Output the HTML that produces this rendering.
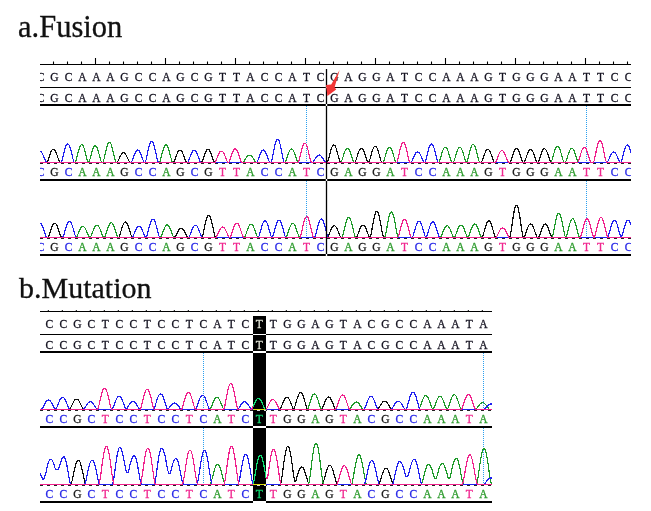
<!DOCTYPE html>
<html><head><meta charset="utf-8"><style>
html,body{margin:0;padding:0;background:#fff;}
body{width:651px;height:511px;overflow:hidden;position:relative;}
svg{position:absolute;left:0;top:0;}
.t{font-family:"Liberation Serif",serif;font-size:30.5px;fill:#111;stroke:#111;stroke-width:0.3;}
.s{font-family:"Liberation Serif",serif;font-size:11.5px;text-anchor:middle;stroke-width:0.3;}
.tr path{fill:none;stroke-width:1.2;stroke-linejoin:round;shape-rendering:crispEdges;}
</style></head><body>
<svg width="651" height="511" viewBox="0 0 651 511">
<defs>
<clipPath id="cf"><rect x="40" y="0" width="591" height="511"/></clipPath>
<clipPath id="cm"><rect x="40" y="0" width="452" height="511"/></clipPath>
</defs>
<rect x="0" y="0" width="651" height="511" fill="#fff"/>
<text class="t" x="18" y="36.9">a.Fusion</text>
<text class="t" x="19" y="297.5" style="font-size:30px">b.Mutation</text>

<g clip-path="url(#cf)">
<g stroke="#000" fill="none">
<line x1="40" y1="64.5" x2="631" y2="64.5" stroke-width="1.1"/>
<line x1="53.5" y1="61.5" x2="53.5" y2="64.5" stroke-width="1.1"/>
<line x1="67.5" y1="61.5" x2="67.5" y2="64.5" stroke-width="1.1"/>
<line x1="81.5" y1="61.5" x2="81.5" y2="64.5" stroke-width="1.1"/>
<line x1="95.5" y1="58.0" x2="95.5" y2="64.5" stroke-width="1.1"/>
<line x1="109.5" y1="61.5" x2="109.5" y2="64.5" stroke-width="1.1"/>
<line x1="123.5" y1="61.5" x2="123.5" y2="64.5" stroke-width="1.1"/>
<line x1="137.5" y1="61.5" x2="137.5" y2="64.5" stroke-width="1.1"/>
<line x1="151.5" y1="61.5" x2="151.5" y2="64.5" stroke-width="1.1"/>
<line x1="165.5" y1="58.0" x2="165.5" y2="64.5" stroke-width="1.1"/>
<line x1="179.5" y1="61.5" x2="179.5" y2="64.5" stroke-width="1.1"/>
<line x1="193.5" y1="61.5" x2="193.5" y2="64.5" stroke-width="1.1"/>
<line x1="207.5" y1="61.5" x2="207.5" y2="64.5" stroke-width="1.1"/>
<line x1="221.5" y1="61.5" x2="221.5" y2="64.5" stroke-width="1.1"/>
<line x1="235.5" y1="58.0" x2="235.5" y2="64.5" stroke-width="1.1"/>
<line x1="249.5" y1="61.5" x2="249.5" y2="64.5" stroke-width="1.1"/>
<line x1="263.5" y1="61.5" x2="263.5" y2="64.5" stroke-width="1.1"/>
<line x1="277.5" y1="61.5" x2="277.5" y2="64.5" stroke-width="1.1"/>
<line x1="291.5" y1="61.5" x2="291.5" y2="64.5" stroke-width="1.1"/>
<line x1="305.5" y1="58.0" x2="305.5" y2="64.5" stroke-width="1.1"/>
<line x1="319.5" y1="61.5" x2="319.5" y2="64.5" stroke-width="1.1"/>
<line x1="333.5" y1="61.5" x2="333.5" y2="64.5" stroke-width="1.1"/>
<line x1="347.5" y1="61.5" x2="347.5" y2="64.5" stroke-width="1.1"/>
<line x1="361.5" y1="61.5" x2="361.5" y2="64.5" stroke-width="1.1"/>
<line x1="375.5" y1="58.0" x2="375.5" y2="64.5" stroke-width="1.1"/>
<line x1="389.5" y1="61.5" x2="389.5" y2="64.5" stroke-width="1.1"/>
<line x1="403.5" y1="61.5" x2="403.5" y2="64.5" stroke-width="1.1"/>
<line x1="417.5" y1="61.5" x2="417.5" y2="64.5" stroke-width="1.1"/>
<line x1="431.5" y1="61.5" x2="431.5" y2="64.5" stroke-width="1.1"/>
<line x1="445.5" y1="58.0" x2="445.5" y2="64.5" stroke-width="1.1"/>
<line x1="459.5" y1="61.5" x2="459.5" y2="64.5" stroke-width="1.1"/>
<line x1="473.5" y1="61.5" x2="473.5" y2="64.5" stroke-width="1.1"/>
<line x1="487.5" y1="61.5" x2="487.5" y2="64.5" stroke-width="1.1"/>
<line x1="501.5" y1="61.5" x2="501.5" y2="64.5" stroke-width="1.1"/>
<line x1="515.5" y1="58.0" x2="515.5" y2="64.5" stroke-width="1.1"/>
<line x1="529.5" y1="61.5" x2="529.5" y2="64.5" stroke-width="1.1"/>
<line x1="543.5" y1="61.5" x2="543.5" y2="64.5" stroke-width="1.1"/>
<line x1="557.5" y1="61.5" x2="557.5" y2="64.5" stroke-width="1.1"/>
<line x1="571.5" y1="61.5" x2="571.5" y2="64.5" stroke-width="1.1"/>
<line x1="585.5" y1="58.0" x2="585.5" y2="64.5" stroke-width="1.1"/>
<line x1="599.5" y1="61.5" x2="599.5" y2="64.5" stroke-width="1.1"/>
<line x1="613.5" y1="61.5" x2="613.5" y2="64.5" stroke-width="1.1"/>
<line x1="627.5" y1="61.5" x2="627.5" y2="64.5" stroke-width="1.1"/>
<line x1="40" y1="87.5" x2="631" y2="87.5" stroke-width="1.2"/>
<line x1="40" y1="105" x2="631" y2="105" stroke-width="2"/>
<line x1="40" y1="180" x2="631" y2="180" stroke-width="2"/>
<line x1="40" y1="255" x2="631" y2="255" stroke-width="2"/>
</g>
<g class="s">
<text x="40.5" y="81.2" fill="#141220" stroke="#141220">C</text>
<text x="54.5" y="81.2" fill="#141220" stroke="#141220">G</text>
<text x="68.5" y="81.2" fill="#141220" stroke="#141220">C</text>
<text x="82.5" y="81.2" fill="#141220" stroke="#141220">A</text>
<text x="96.5" y="81.2" fill="#141220" stroke="#141220">A</text>
<text x="110.5" y="81.2" fill="#141220" stroke="#141220">A</text>
<text x="124.5" y="81.2" fill="#141220" stroke="#141220">G</text>
<text x="138.5" y="81.2" fill="#141220" stroke="#141220">C</text>
<text x="152.5" y="81.2" fill="#141220" stroke="#141220">C</text>
<text x="166.5" y="81.2" fill="#141220" stroke="#141220">A</text>
<text x="180.5" y="81.2" fill="#141220" stroke="#141220">G</text>
<text x="194.5" y="81.2" fill="#141220" stroke="#141220">C</text>
<text x="208.5" y="81.2" fill="#141220" stroke="#141220">G</text>
<text x="222.5" y="81.2" fill="#141220" stroke="#141220">T</text>
<text x="236.5" y="81.2" fill="#141220" stroke="#141220">T</text>
<text x="250.5" y="81.2" fill="#141220" stroke="#141220">A</text>
<text x="264.5" y="81.2" fill="#141220" stroke="#141220">C</text>
<text x="278.5" y="81.2" fill="#141220" stroke="#141220">C</text>
<text x="292.5" y="81.2" fill="#141220" stroke="#141220">A</text>
<text x="306.5" y="81.2" fill="#141220" stroke="#141220">T</text>
<text x="320.5" y="81.2" fill="#141220" stroke="#141220">C</text>
<text x="334.5" y="81.2" fill="#141220" stroke="#141220">G</text>
<text x="348.5" y="81.2" fill="#141220" stroke="#141220">A</text>
<text x="362.5" y="81.2" fill="#141220" stroke="#141220">G</text>
<text x="376.5" y="81.2" fill="#141220" stroke="#141220">G</text>
<text x="390.5" y="81.2" fill="#141220" stroke="#141220">A</text>
<text x="404.5" y="81.2" fill="#141220" stroke="#141220">T</text>
<text x="418.5" y="81.2" fill="#141220" stroke="#141220">C</text>
<text x="432.5" y="81.2" fill="#141220" stroke="#141220">C</text>
<text x="446.5" y="81.2" fill="#141220" stroke="#141220">A</text>
<text x="460.5" y="81.2" fill="#141220" stroke="#141220">A</text>
<text x="474.5" y="81.2" fill="#141220" stroke="#141220">A</text>
<text x="488.5" y="81.2" fill="#141220" stroke="#141220">G</text>
<text x="502.5" y="81.2" fill="#141220" stroke="#141220">T</text>
<text x="516.5" y="81.2" fill="#141220" stroke="#141220">G</text>
<text x="530.5" y="81.2" fill="#141220" stroke="#141220">G</text>
<text x="544.5" y="81.2" fill="#141220" stroke="#141220">G</text>
<text x="558.5" y="81.2" fill="#141220" stroke="#141220">A</text>
<text x="572.5" y="81.2" fill="#141220" stroke="#141220">A</text>
<text x="586.5" y="81.2" fill="#141220" stroke="#141220">T</text>
<text x="600.5" y="81.2" fill="#141220" stroke="#141220">T</text>
<text x="614.5" y="81.2" fill="#141220" stroke="#141220">C</text>
<text x="628.5" y="81.2" fill="#141220" stroke="#141220">C</text>
<text x="40.5" y="101.8" fill="#141220" stroke="#141220">C</text>
<text x="54.5" y="101.8" fill="#141220" stroke="#141220">G</text>
<text x="68.5" y="101.8" fill="#141220" stroke="#141220">C</text>
<text x="82.5" y="101.8" fill="#141220" stroke="#141220">A</text>
<text x="96.5" y="101.8" fill="#141220" stroke="#141220">A</text>
<text x="110.5" y="101.8" fill="#141220" stroke="#141220">A</text>
<text x="124.5" y="101.8" fill="#141220" stroke="#141220">G</text>
<text x="138.5" y="101.8" fill="#141220" stroke="#141220">C</text>
<text x="152.5" y="101.8" fill="#141220" stroke="#141220">C</text>
<text x="166.5" y="101.8" fill="#141220" stroke="#141220">A</text>
<text x="180.5" y="101.8" fill="#141220" stroke="#141220">G</text>
<text x="194.5" y="101.8" fill="#141220" stroke="#141220">C</text>
<text x="208.5" y="101.8" fill="#141220" stroke="#141220">G</text>
<text x="222.5" y="101.8" fill="#141220" stroke="#141220">T</text>
<text x="236.5" y="101.8" fill="#141220" stroke="#141220">T</text>
<text x="250.5" y="101.8" fill="#141220" stroke="#141220">A</text>
<text x="264.5" y="101.8" fill="#141220" stroke="#141220">C</text>
<text x="278.5" y="101.8" fill="#141220" stroke="#141220">C</text>
<text x="292.5" y="101.8" fill="#141220" stroke="#141220">A</text>
<text x="306.5" y="101.8" fill="#141220" stroke="#141220">T</text>
<text x="320.5" y="101.8" fill="#141220" stroke="#141220">C</text>
<text x="334.5" y="101.8" fill="#141220" stroke="#141220">G</text>
<text x="348.5" y="101.8" fill="#141220" stroke="#141220">A</text>
<text x="362.5" y="101.8" fill="#141220" stroke="#141220">G</text>
<text x="376.5" y="101.8" fill="#141220" stroke="#141220">G</text>
<text x="390.5" y="101.8" fill="#141220" stroke="#141220">A</text>
<text x="404.5" y="101.8" fill="#141220" stroke="#141220">T</text>
<text x="418.5" y="101.8" fill="#141220" stroke="#141220">C</text>
<text x="432.5" y="101.8" fill="#141220" stroke="#141220">C</text>
<text x="446.5" y="101.8" fill="#141220" stroke="#141220">A</text>
<text x="460.5" y="101.8" fill="#141220" stroke="#141220">A</text>
<text x="474.5" y="101.8" fill="#141220" stroke="#141220">A</text>
<text x="488.5" y="101.8" fill="#141220" stroke="#141220">G</text>
<text x="502.5" y="101.8" fill="#141220" stroke="#141220">T</text>
<text x="516.5" y="101.8" fill="#141220" stroke="#141220">G</text>
<text x="530.5" y="101.8" fill="#141220" stroke="#141220">G</text>
<text x="544.5" y="101.8" fill="#141220" stroke="#141220">G</text>
<text x="558.5" y="101.8" fill="#141220" stroke="#141220">A</text>
<text x="572.5" y="101.8" fill="#141220" stroke="#141220">A</text>
<text x="586.5" y="101.8" fill="#141220" stroke="#141220">T</text>
<text x="600.5" y="101.8" fill="#141220" stroke="#141220">T</text>
<text x="614.5" y="101.8" fill="#141220" stroke="#141220">C</text>
<text x="628.5" y="101.8" fill="#141220" stroke="#141220">C</text>
<text x="40.5" y="175.8" fill="#2828e8" stroke="#2828e8">C</text>
<text x="54.5" y="175.8" fill="#1a1a1a" stroke="#1a1a1a">G</text>
<text x="68.5" y="175.8" fill="#2828e8" stroke="#2828e8">C</text>
<text x="82.5" y="175.8" fill="#2a9a2a" stroke="#2a9a2a">A</text>
<text x="96.5" y="175.8" fill="#2a9a2a" stroke="#2a9a2a">A</text>
<text x="110.5" y="175.8" fill="#2a9a2a" stroke="#2a9a2a">A</text>
<text x="124.5" y="175.8" fill="#1a1a1a" stroke="#1a1a1a">G</text>
<text x="138.5" y="175.8" fill="#2828e8" stroke="#2828e8">C</text>
<text x="152.5" y="175.8" fill="#2828e8" stroke="#2828e8">C</text>
<text x="166.5" y="175.8" fill="#2a9a2a" stroke="#2a9a2a">A</text>
<text x="180.5" y="175.8" fill="#1a1a1a" stroke="#1a1a1a">G</text>
<text x="194.5" y="175.8" fill="#2828e8" stroke="#2828e8">C</text>
<text x="208.5" y="175.8" fill="#1a1a1a" stroke="#1a1a1a">G</text>
<text x="222.5" y="175.8" fill="#f02890" stroke="#f02890">T</text>
<text x="236.5" y="175.8" fill="#f02890" stroke="#f02890">T</text>
<text x="250.5" y="175.8" fill="#2a9a2a" stroke="#2a9a2a">A</text>
<text x="264.5" y="175.8" fill="#2828e8" stroke="#2828e8">C</text>
<text x="278.5" y="175.8" fill="#2828e8" stroke="#2828e8">C</text>
<text x="292.5" y="175.8" fill="#2a9a2a" stroke="#2a9a2a">A</text>
<text x="306.5" y="175.8" fill="#f02890" stroke="#f02890">T</text>
<text x="320.5" y="175.8" fill="#2828e8" stroke="#2828e8">C</text>
<text x="334.5" y="175.8" fill="#1a1a1a" stroke="#1a1a1a">G</text>
<text x="348.5" y="175.8" fill="#2a9a2a" stroke="#2a9a2a">A</text>
<text x="362.5" y="175.8" fill="#1a1a1a" stroke="#1a1a1a">G</text>
<text x="376.5" y="175.8" fill="#1a1a1a" stroke="#1a1a1a">G</text>
<text x="390.5" y="175.8" fill="#2a9a2a" stroke="#2a9a2a">A</text>
<text x="404.5" y="175.8" fill="#f02890" stroke="#f02890">T</text>
<text x="418.5" y="175.8" fill="#2828e8" stroke="#2828e8">C</text>
<text x="432.5" y="175.8" fill="#2828e8" stroke="#2828e8">C</text>
<text x="446.5" y="175.8" fill="#2a9a2a" stroke="#2a9a2a">A</text>
<text x="460.5" y="175.8" fill="#2a9a2a" stroke="#2a9a2a">A</text>
<text x="474.5" y="175.8" fill="#2a9a2a" stroke="#2a9a2a">A</text>
<text x="488.5" y="175.8" fill="#1a1a1a" stroke="#1a1a1a">G</text>
<text x="502.5" y="175.8" fill="#f02890" stroke="#f02890">T</text>
<text x="516.5" y="175.8" fill="#1a1a1a" stroke="#1a1a1a">G</text>
<text x="530.5" y="175.8" fill="#1a1a1a" stroke="#1a1a1a">G</text>
<text x="544.5" y="175.8" fill="#1a1a1a" stroke="#1a1a1a">G</text>
<text x="558.5" y="175.8" fill="#2a9a2a" stroke="#2a9a2a">A</text>
<text x="572.5" y="175.8" fill="#2a9a2a" stroke="#2a9a2a">A</text>
<text x="586.5" y="175.8" fill="#f02890" stroke="#f02890">T</text>
<text x="600.5" y="175.8" fill="#f02890" stroke="#f02890">T</text>
<text x="614.5" y="175.8" fill="#2828e8" stroke="#2828e8">C</text>
<text x="628.5" y="175.8" fill="#2828e8" stroke="#2828e8">C</text>
<text x="40.5" y="251.0" fill="#2828e8" stroke="#2828e8">C</text>
<text x="54.5" y="251.0" fill="#1a1a1a" stroke="#1a1a1a">G</text>
<text x="68.5" y="251.0" fill="#2828e8" stroke="#2828e8">C</text>
<text x="82.5" y="251.0" fill="#2a9a2a" stroke="#2a9a2a">A</text>
<text x="96.5" y="251.0" fill="#2a9a2a" stroke="#2a9a2a">A</text>
<text x="110.5" y="251.0" fill="#2a9a2a" stroke="#2a9a2a">A</text>
<text x="124.5" y="251.0" fill="#1a1a1a" stroke="#1a1a1a">G</text>
<text x="138.5" y="251.0" fill="#2828e8" stroke="#2828e8">C</text>
<text x="152.5" y="251.0" fill="#2828e8" stroke="#2828e8">C</text>
<text x="166.5" y="251.0" fill="#2a9a2a" stroke="#2a9a2a">A</text>
<text x="180.5" y="251.0" fill="#1a1a1a" stroke="#1a1a1a">G</text>
<text x="194.5" y="251.0" fill="#2828e8" stroke="#2828e8">C</text>
<text x="208.5" y="251.0" fill="#1a1a1a" stroke="#1a1a1a">G</text>
<text x="222.5" y="251.0" fill="#f02890" stroke="#f02890">T</text>
<text x="236.5" y="251.0" fill="#f02890" stroke="#f02890">T</text>
<text x="250.5" y="251.0" fill="#2a9a2a" stroke="#2a9a2a">A</text>
<text x="264.5" y="251.0" fill="#2828e8" stroke="#2828e8">C</text>
<text x="278.5" y="251.0" fill="#2828e8" stroke="#2828e8">C</text>
<text x="292.5" y="251.0" fill="#2a9a2a" stroke="#2a9a2a">A</text>
<text x="306.5" y="251.0" fill="#f02890" stroke="#f02890">T</text>
<text x="320.5" y="251.0" fill="#2828e8" stroke="#2828e8">C</text>
<text x="334.5" y="251.0" fill="#1a1a1a" stroke="#1a1a1a">G</text>
<text x="348.5" y="251.0" fill="#2a9a2a" stroke="#2a9a2a">A</text>
<text x="362.5" y="251.0" fill="#1a1a1a" stroke="#1a1a1a">G</text>
<text x="376.5" y="251.0" fill="#1a1a1a" stroke="#1a1a1a">G</text>
<text x="390.5" y="251.0" fill="#2a9a2a" stroke="#2a9a2a">A</text>
<text x="404.5" y="251.0" fill="#f02890" stroke="#f02890">T</text>
<text x="418.5" y="251.0" fill="#2828e8" stroke="#2828e8">C</text>
<text x="432.5" y="251.0" fill="#2828e8" stroke="#2828e8">C</text>
<text x="446.5" y="251.0" fill="#2a9a2a" stroke="#2a9a2a">A</text>
<text x="460.5" y="251.0" fill="#2a9a2a" stroke="#2a9a2a">A</text>
<text x="474.5" y="251.0" fill="#2a9a2a" stroke="#2a9a2a">A</text>
<text x="488.5" y="251.0" fill="#1a1a1a" stroke="#1a1a1a">G</text>
<text x="502.5" y="251.0" fill="#f02890" stroke="#f02890">T</text>
<text x="516.5" y="251.0" fill="#1a1a1a" stroke="#1a1a1a">G</text>
<text x="530.5" y="251.0" fill="#1a1a1a" stroke="#1a1a1a">G</text>
<text x="544.5" y="251.0" fill="#1a1a1a" stroke="#1a1a1a">G</text>
<text x="558.5" y="251.0" fill="#2a9a2a" stroke="#2a9a2a">A</text>
<text x="572.5" y="251.0" fill="#2a9a2a" stroke="#2a9a2a">A</text>
<text x="586.5" y="251.0" fill="#f02890" stroke="#f02890">T</text>
<text x="600.5" y="251.0" fill="#f02890" stroke="#f02890">T</text>
<text x="614.5" y="251.0" fill="#2828e8" stroke="#2828e8">C</text>
<text x="628.5" y="251.0" fill="#2828e8" stroke="#2828e8">C</text>
</g>
<g stroke="#2aa0f0" stroke-width="1" stroke-dasharray="1 1">
<line x1="306.5" y1="106" x2="306.5" y2="162"/>
<line x1="306.5" y1="181" x2="306.5" y2="237"/>
<line x1="586.5" y1="106" x2="586.5" y2="162"/>
<line x1="586.5" y1="181" x2="586.5" y2="237"/>
</g>
<g class="tr">
<line x1="40" y1="163.5" x2="631" y2="163.5" stroke="#202020" stroke-width="1" stroke-dasharray="3 4"/>
<path d="M40 162.5L46 162.5L47 162.3L48 160.2L49 157.3L50 154.4L51 151.8L52 150L53 149.1L54 149.2L55 150.3L56 152.3L57 154.9L58 157.9L59 160.7L60 162.5L116 162.5L117 162.4L118 161L119 159L120 156.8L121 154.9L122 153.5L123 152.8L124 152.8L125 153.5L126 154.9L127 156.8L128 159L129 161L130 162.4L131 162.5L173 162.5L174 161.7L175 159.4L176 156.6L177 154L178 151.8L179 150.5L180 150L181 150.5L182 151.8L183 154L184 156.6L185 159.4L186 161.7L187 162.5L201 162.5L202 161.7L203 159.2L204 156.3L205 153.5L206 151.2L207 149.8L208 149.3L209 149.8L210 151.2L211 153.5L212 156.3L213 159.2L214 161.7L215 162.5L327 162.5L328 160.8L329 157.3L330 153.4L331 149.8L332 147L333 145.3L334 144.9L335 145.8L336 148L337 151.2L338 155L339 158.8L340 161.8L341 162.5L354 162.5L355 162.3L356 160.1L357 157L358 153.8L359 151.1L360 149.2L361 148.2L362 148.3L363 149.5L364 151.6L365 154.4L366 157.6L367 160.6L368 162.5L369 161.9L370 159.1L371 155.4L372 151.9L373 148.9L374 146.9L375 146L376 146.4L377 148L378 150.6L379 154L380 157.6L381 160.9L382 162.5L481 162.5L482 161.2L483 158.6L484 155.6L485 152.9L486 150.8L487 149.5L488 149.2L489 149.9L490 151.5L491 153.9L492 156.8L493 159.7L494 162L495 162.5L509 162.5L510 162.4L511 160.4L512 157.3L513 154.2L514 151.4L515 149.4L516 148.3L517 148.3L518 149.4L519 151.4L520 154.2L521 157.3L522 160.4L523 162.4L524 162.5L525 160.8L526 158L527 155L528 152.4L529 150.5L530 149.4L531 149.3L532 150.2L533 152L534 154.5L535 157.4L536 160.3L537 162.3L538 162.3L539 160.2L540 157.2L541 154.2L542 151.6L543 149.7L544 148.8L545 148.9L546 150L547 152L548 154.8L549 157.8L550 160.7L551 162.5L631 162.5" stroke="#101010"/>
<path d="M40 162.5L75 162.5L76 160.5L77 156.8L78 152.9L79 149.3L80 146.5L81 144.9L82 144.7L83 145.7L84 148L85 151.3L86 155.2L87 159.1L88 162L89 161.9L90 159L91 155.4L92 151.7L93 148.7L94 146.7L95 145.8L96 146.2L97 147.8L98 150.4L99 153.9L100 157.6L101 160.9L102 162.5L103 162.2L104 159.1L105 154.7L106 150.2L107 146.3L108 143.6L109 142.2L110 142.4L111 144L112 147L113 151.1L114 155.6L115 159.8L116 162.4L117 162.5L159 162.5L160 161.4L161 158L162 154L163 150.3L164 147.2L165 145.3L166 144.6L167 145.3L168 147.2L169 150.3L170 154L171 158L172 161.4L173 162.5L242 162.5L243 162.4L244 161.4L245 159.8L246 158.1L247 156.7L248 155.6L249 155.1L250 155.1L251 155.6L252 156.7L253 158.1L254 159.8L255 161.4L256 162.4L257 162.5L284 162.5L285 162.4L286 160.5L287 157.6L288 154.5L289 151.9L290 149.9L291 148.9L292 148.9L293 149.9L294 151.9L295 154.5L296 157.6L297 160.5L298 162.4L299 162.5L340 162.5L341 162.3L342 160.1L343 157L344 153.8L345 151.1L346 149.2L347 148.2L348 148.3L349 149.5L350 151.6L351 154.4L352 157.6L353 160.6L354 162.5L382 162.5L383 162.4L384 160.2L385 157L386 153.6L387 150.6L388 148.5L389 147.3L390 147.3L391 148.5L392 150.6L393 153.6L394 157L395 160.2L396 162.4L397 162.5L438 162.5L439 162.1L440 159.6L441 156.2L442 152.8L443 150L444 148L445 147.1L446 147.3L447 148.7L448 151L449 154.1L450 157.6L451 160.8L452 162.5L453 162.5L454 161L455 158L456 154.6L457 151.5L458 149L459 147.6L460 147.2L461 148L462 149.9L463 152.6L464 156L465 159.3L466 161.9L467 161.6L468 158.3L469 154.3L470 150.4L471 147.2L472 145.1L473 144.3L474 144.9L475 146.7L476 149.7L477 153.5L478 157.5L479 161.1L480 162.5L550 162.5L551 162.4L552 160.1L553 156.6L554 153L555 149.8L556 147.5L557 146.3L558 146.3L559 147.5L560 149.8L561 153L562 156.6L563 160.1L564 162.4L565 162.5L566 161.1L567 158.3L568 155.1L569 152.2L570 149.9L571 148.5L572 148.2L573 149L574 150.7L575 153.3L576 156.4L577 159.5L578 162L579 162.5L631 162.5" stroke="#1e9a2a"/>
<path d="M40 151.4L41 151.8L42 153L43 154.9L44 157.3L45 159.7L46 161.8L47 162.5L61 162.5L62 160.4L63 156.6L64 152.4L65 148.7L66 145.8L67 144.1L68 143.9L69 145L70 147.4L71 150.8L72 154.9L73 159L74 162L75 162.5L131 162.5L132 161.1L133 158.5L134 155.8L135 153.3L136 151.3L137 150.2L138 150L139 150.8L140 152.4L141 154.7L142 157.4L143 160.1L144 162.2L145 162.5L146 160.1L147 155.7L148 150.9L149 146.5L150 143.2L151 141.3L152 141L153 142.3L154 145L155 149L156 153.7L157 158.4L158 161.9L159 162.5L187 162.5L188 162L189 159.9L190 157.1L191 154.5L192 152.2L193 150.7L194 150L195 150.3L196 151.5L197 153.5L198 156L199 158.8L200 161.3L201 162.5L256 162.5L257 162.2L258 160.1L259 157.4L260 154.7L261 152.4L262 150.8L263 150L264 150.2L265 151.3L266 153.3L267 155.8L268 158.5L269 161.1L270 162.5L271 162.4L272 159.4L273 154.5L274 149.3L275 144.7L276 141.2L277 139.3L278 139.1L279 140.7L280 143.9L281 148.3L282 153.5L283 158.5L284 162.1L285 162.5L312 162.5L313 162.1L314 160.8L315 159.1L316 157.5L317 156.2L318 155.3L319 155L320 155.2L321 156L322 157.2L323 158.8L324 160.5L325 161.9L326 162.5L411 162.5L412 161.1L413 158.9L414 156.5L415 154.4L416 152.8L417 151.9L418 151.9L419 152.6L420 154L421 156.1L422 158.4L423 160.7L424 162.3L425 162.3L426 159.7L427 155.7L428 151.6L429 147.9L430 145.3L431 143.9L432 143.9L433 145.3L434 147.9L435 151.6L436 155.7L437 159.7L438 162.3L439 162.5L607 162.5L608 161.1L609 158.9L610 156.6L611 154.5L612 152.9L613 152L614 152L615 152.7L616 154.1L617 156.1L618 158.4L619 160.7L620 162.3L621 162.2L622 159.5L623 155.7L624 151.8L625 148.5L626 146.1L627 144.9L628 145L629 146.5L630 149.1L631 152.6" stroke="#2020f0"/>
<path d="M40 162.5L214 162.5L215 162.3L216 160.6L217 158.1L218 155.6L219 153.4L220 151.8L221 151.1L222 151.2L223 152.1L224 153.8L225 156.1L226 158.6L227 161L228 162.5L229 162L230 159.6L231 156.6L232 153.7L233 151.2L234 149.5L235 148.8L236 149.1L237 150.4L238 152.6L239 155.4L240 158.5L241 161.2L242 162.5L298 162.5L299 160.6L300 156.8L301 152.4L302 148.4L303 145.3L304 143.5L305 143L306 144.1L307 146.4L308 149.9L309 154.2L310 158.4L311 161.8L312 162.5L396 162.5L397 162L398 158.7L399 154.3L400 150L401 146.3L402 143.7L403 142.5L404 142.8L405 144.5L406 147.6L407 151.7L408 156.1L409 160.2L410 162.5L495 162.5L496 161.6L497 159.2L498 156.6L499 154.1L500 152.1L501 150.9L502 150.5L503 151L504 152.4L505 154.5L506 157.1L507 159.7L508 161.9L509 162.5L577 162.5L578 162.1L579 159.6L580 156.3L581 153L582 150.1L583 148.2L584 147.3L585 147.5L586 148.8L587 151.2L588 154.3L589 157.7L590 160.8L591 162.5L593 162.5L594 161.1L595 157L596 152.1L597 147.4L598 143.6L599 141.2L600 140.4L601 141.2L602 143.6L603 147.4L604 152.1L605 157L606 161.1L607 162.5L631 162.5" stroke="#f0208c"/>
<line x1="40" y1="238.5" x2="631" y2="238.5" stroke="#202020" stroke-width="1" stroke-dasharray="3 4"/>
<path d="M40 237.5L47 237.5L48 237.4L49 235.5L50 232.5L51 229.5L52 226.7L53 224.6L54 223.4L55 223.2L56 224.1L57 225.8L58 228.3L59 231.3L60 234.4L61 236.8L62 237.5L118 237.5L119 237L120 234.4L121 231.1L122 227.8L123 225L124 223L125 222L126 222.1L127 223.3L128 225.5L129 228.4L130 231.8L131 235L132 237.3L133 237.5L174 237.5L175 236.9L176 235.2L177 233.2L178 231.3L179 229.7L180 228.6L181 228.1L182 228.3L183 229.2L184 230.6L185 232.4L186 234.4L187 236.3L188 237.5L201 237.5L202 237.3L203 234.3L204 229.8L205 225L206 220.8L207 217.5L208 215.7L209 215.4L210 216.6L211 219.3L212 223.2L213 227.9L214 232.6L215 236.4L216 237.5L327 237.5L328 236.8L329 234.7L330 232.1L331 229.7L332 227.7L333 226.3L334 225.7L335 226L336 227L337 228.8L338 231.1L339 233.7L340 236L341 237.5L356 237.5L357 236.4L358 234L359 231.3L360 228.7L361 226.7L362 225.4L363 225L364 225.4L365 226.7L366 228.7L367 231.3L368 234L369 236.4L370 237.4L371 234.2L372 229L373 223.3L374 218.1L375 214.2L376 211.8L377 211.2L378 212.5L379 215.6L380 220.1L381 225.5L382 231.2L383 235.9L384 237.5L482 237.5L483 235.4L484 232.1L485 228.5L486 225.2L487 222.7L488 221.2L489 220.8L490 221.6L491 223.6L492 226.4L493 229.9L494 233.5L495 236.5L496 237.5L509 237.5L510 236.7L511 231.7L512 224.9L513 218L514 212L515 207.7L516 205.4L517 205.4L518 207.7L519 212L520 218L521 224.9L522 231.7L523 236.7L524 237.3L525 235.3L526 232.5L527 229.6L528 227L529 225.1L530 224.1L531 224L532 224.8L533 226.6L534 229L535 231.9L536 234.8L537 237L538 237.5L539 236.7L540 234.2L541 231.3L542 228.5L543 226.2L544 224.6L545 223.9L546 224.2L547 225.4L548 227.5L549 230.1L550 233.1L551 235.8L552 237.5L631 237.5" stroke="#101010"/>
<path d="M40 237.5L76 237.5L77 236.3L78 234.1L79 231.7L80 229.5L81 227.8L82 226.7L83 226.4L84 226.9L85 228.1L86 229.9L87 232.2L88 234.6L89 236.7L90 237.5L91 236.2L92 233.7L93 231.1L94 228.6L95 226.7L96 225.5L97 225.1L98 225.6L99 227L100 229L101 231.6L102 234.3L103 236.6L104 237.5L105 236.6L106 233.9L107 230.8L108 227.7L109 225.2L110 223.5L111 222.7L112 223L113 224.4L114 226.6L115 229.5L116 232.7L117 235.7L118 237.5L160 237.5L161 236.7L162 234.5L163 231.8L164 229.2L165 227L166 225.5L167 224.9L168 225.2L169 226.3L170 228.2L171 230.7L172 233.4L173 235.9L174 237.5L244 237.5L245 236.5L246 234L247 231.1L248 228.4L249 226.1L250 224.7L251 224.1L252 224.5L253 225.8L254 227.9L255 230.5L256 233.4L257 236.1L258 237.5L286 237.5L287 235.7L288 232.9L289 229.9L290 227.1L291 225L292 223.7L293 223.4L294 224.1L295 225.7L296 228.2L297 231.1L298 234.1L299 236.6L300 237.5L341 237.5L342 237.3L343 234.6L344 230.5L345 226.1L346 222.2L347 219.3L348 217.6L349 217.3L350 218.4L351 220.9L352 224.4L353 228.7L354 233L355 236.5L356 237.5L384 237.5L385 236.6L386 232.4L387 227L388 221.5L389 216.9L390 213.7L391 212L392 212.2L393 214.2L394 217.8L395 222.6L396 228.1L397 233.4L398 237.1L399 237.5L440 237.5L441 236.6L442 234.4L443 231.9L444 229.5L445 227.5L446 226.2L447 225.7L448 226L449 227.2L450 229L451 231.4L452 233.9L453 236.2L454 237.5L455 236.4L456 234L457 231.3L458 228.7L459 226.7L460 225.4L461 225L462 225.4L463 226.7L464 228.7L465 231.3L466 234L467 236.4L468 237.4L469 235.6L470 232.8L471 229.9L472 227.2L473 225.3L474 224.1L475 223.9L476 224.7L477 226.4L478 228.8L479 231.6L480 234.5L481 236.9L482 237.5L551 237.5L552 237.4L553 234.5L554 229.5L555 224.2L556 219.5L557 215.8L558 213.6L559 213L560 214.2L561 217.1L562 221.3L563 226.3L564 231.6L565 236L566 237.2L567 234.5L568 230.6L569 226.5L570 223L571 220.4L572 218.9L573 218.8L574 220L575 222.4L576 225.8L577 229.8L578 233.7L579 236.8L580 237.5L631 237.5" stroke="#1e9a2a"/>
<path d="M40 223.2L41 223.7L42 225.2L43 227.5L44 230.4L45 233.5L46 236.2L47 237.5L62 237.5L63 236.9L64 234.2L65 230.8L66 227.3L67 224.4L68 222.3L69 221.3L70 221.4L71 222.7L72 224.9L73 228L74 231.5L75 234.9L76 237.3L77 237.5L132 237.5L133 236.3L134 234L135 231.6L136 229.3L137 227.5L138 226.4L139 226.1L140 226.6L141 227.8L142 229.7L143 232.1L144 234.5L145 236.6L146 237.5L147 235.5L148 231.9L149 227.9L150 224.2L151 221.3L152 219.5L153 219L154 219.8L155 221.8L156 224.9L157 228.7L158 232.7L159 236.1L160 237.5L188 237.5L189 237.1L190 235L191 232.4L192 229.7L193 227.5L194 225.9L195 225.1L196 225.2L197 226.1L198 227.9L199 230.2L200 232.9L201 235.5L202 237.3L203 237.5L258 237.5L259 236L260 232.7L261 229.1L262 225.7L263 222.9L264 221.2L265 220.6L266 221.2L267 222.9L268 225.7L269 229.1L270 232.7L271 236L272 237.5L273 235.9L274 232.6L275 228.8L276 225.2L277 222.4L278 220.6L279 220L280 220.6L281 222.4L282 225.2L283 228.8L284 232.6L285 235.9L286 237.5L314 237.5L315 236.8L316 233.8L317 229.8L318 225.8L319 222.5L320 220.1L321 218.9L322 219L323 220.5L324 223.1L325 226.6L326 230.6L327 234.5L328 237.2L329 237.5L412 237.5L413 236L414 232.9L415 229.3L416 226L417 223.4L418 221.7L419 221.1L420 221.7L421 223.4L422 226L423 229.3L424 232.9L425 236L426 237.5L427 235.5L428 232.4L429 229L430 225.9L431 223.6L432 222.2L433 221.8L434 222.6L435 224.4L436 227.1L437 230.4L438 233.7L439 236.5L440 237.5L607 237.5L608 236.9L609 234L610 230.3L611 226.6L612 223.4L613 221.2L614 220.1L615 220.2L616 221.6L617 224L618 227.3L619 231.1L620 234.7L621 237.2L622 235.9L623 232.6L624 228.8L625 225.2L626 222.4L627 220.6L628 220L629 220.6L630 222.4L631 225.2" stroke="#2020f0"/>
<path d="M40 237.5L215 237.5L216 237.3L217 235.8L218 233.6L219 231.3L220 229.3L221 227.9L222 227L223 227L224 227.6L225 229L226 230.9L227 233.1L228 235.4L229 237.1L230 237.5L231 235.7L232 232.8L233 229.7L234 226.8L235 224.6L236 223.3L237 223L238 223.7L239 225.4L240 227.9L241 230.9L242 234L243 236.6L244 237.5L299 237.5L300 237.3L301 234.5L302 230.2L303 225.7L304 221.7L305 218.6L306 216.9L307 216.6L308 217.8L309 220.3L310 224L311 228.4L312 232.9L313 236.5L314 237.5L397 237.5L398 237.1L399 234.2L400 230.4L401 226.5L402 223.2L403 220.7L404 219.5L405 219.5L406 220.7L407 223.2L408 226.5L409 230.4L410 234.2L411 237.1L412 237.5L495 237.5L496 237.4L497 236L498 234L499 231.9L500 230.1L501 228.8L502 228L503 228L504 228.6L505 229.8L506 231.5L507 233.5L508 235.6L509 237.2L510 237.5L580 237.5L581 235.8L582 232.2L583 228.1L584 224.3L585 221.3L586 219.4L587 218.7L588 219.4L589 221.3L590 224.3L591 228.1L592 232.2L593 235.8L594 237.5L595 235.7L596 231.8L597 227.5L598 223.4L599 220.2L600 218.1L601 217.4L602 218.1L603 220.2L604 223.4L605 227.5L606 231.8L607 235.7L608 237.5L631 237.5" stroke="#f0208c"/>
</g>
<line x1="326.5" y1="69" x2="326.5" y2="255.8" stroke="#000" stroke-width="1.3"/>
<g fill="#fff"><rect x="325.8" y="86.8" width="1.4" height="1.3"/><rect x="325.8" y="104" width="1.4" height="2"/><rect x="325.8" y="179" width="1.4" height="2"/><rect x="325.8" y="254" width="1.4" height="2"/></g>
<path d="M339.6 70 L334.6 87.2 L336.2 89.6 L327.4 96 L326 85 L331.2 84.6 Z" fill="#f23636"/>
</g>
<g clip-path="url(#cm)">
<g stroke="#000" fill="none">
<line x1="40" y1="311.5" x2="492" y2="311.5" stroke-width="1.1"/>
<line x1="48.3" y1="310" x2="48.3" y2="311.2" stroke-width="1"/>
<line x1="62.3" y1="310" x2="62.3" y2="311.2" stroke-width="1"/>
<line x1="76.3" y1="310" x2="76.3" y2="311.2" stroke-width="1"/>
<line x1="90.3" y1="310" x2="90.3" y2="311.2" stroke-width="1"/>
<line x1="104.3" y1="310" x2="104.3" y2="311.2" stroke-width="1"/>
<line x1="118.3" y1="310" x2="118.3" y2="311.2" stroke-width="1"/>
<line x1="132.3" y1="310" x2="132.3" y2="311.2" stroke-width="1"/>
<line x1="146.3" y1="310" x2="146.3" y2="311.2" stroke-width="1"/>
<line x1="160.3" y1="310" x2="160.3" y2="311.2" stroke-width="1"/>
<line x1="174.3" y1="310" x2="174.3" y2="311.2" stroke-width="1"/>
<line x1="188.3" y1="310" x2="188.3" y2="311.2" stroke-width="1"/>
<line x1="202.3" y1="310" x2="202.3" y2="311.2" stroke-width="1"/>
<line x1="216.3" y1="310" x2="216.3" y2="311.2" stroke-width="1"/>
<line x1="230.3" y1="310" x2="230.3" y2="311.2" stroke-width="1"/>
<line x1="244.3" y1="310" x2="244.3" y2="311.2" stroke-width="1"/>
<line x1="258.3" y1="310" x2="258.3" y2="311.2" stroke-width="1"/>
<line x1="272.3" y1="310" x2="272.3" y2="311.2" stroke-width="1"/>
<line x1="286.3" y1="310" x2="286.3" y2="311.2" stroke-width="1"/>
<line x1="300.3" y1="310" x2="300.3" y2="311.2" stroke-width="1"/>
<line x1="314.3" y1="310" x2="314.3" y2="311.2" stroke-width="1"/>
<line x1="328.3" y1="310" x2="328.3" y2="311.2" stroke-width="1"/>
<line x1="342.3" y1="310" x2="342.3" y2="311.2" stroke-width="1"/>
<line x1="356.3" y1="310" x2="356.3" y2="311.2" stroke-width="1"/>
<line x1="370.3" y1="310" x2="370.3" y2="311.2" stroke-width="1"/>
<line x1="384.3" y1="310" x2="384.3" y2="311.2" stroke-width="1"/>
<line x1="398.3" y1="310" x2="398.3" y2="311.2" stroke-width="1"/>
<line x1="412.3" y1="310" x2="412.3" y2="311.2" stroke-width="1"/>
<line x1="426.3" y1="310" x2="426.3" y2="311.2" stroke-width="1"/>
<line x1="440.3" y1="310" x2="440.3" y2="311.2" stroke-width="1"/>
<line x1="454.3" y1="310" x2="454.3" y2="311.2" stroke-width="1"/>
<line x1="468.3" y1="310" x2="468.3" y2="311.2" stroke-width="1"/>
<line x1="482.3" y1="310" x2="482.3" y2="311.2" stroke-width="1"/>
<line x1="40" y1="334.5" x2="492" y2="334.5" stroke-width="1.2"/>
<line x1="40" y1="352" x2="492" y2="352" stroke-width="2"/>
<line x1="40" y1="427" x2="492" y2="427" stroke-width="2"/>
<line x1="40" y1="502" x2="492" y2="502" stroke-width="2"/>
</g>
<g class="s">
<text x="49.3" y="327.9" fill="#141220" stroke="#141220">C</text>
<text x="63.3" y="327.9" fill="#141220" stroke="#141220">C</text>
<text x="77.3" y="327.9" fill="#141220" stroke="#141220">G</text>
<text x="91.3" y="327.9" fill="#141220" stroke="#141220">C</text>
<text x="105.3" y="327.9" fill="#141220" stroke="#141220">T</text>
<text x="119.3" y="327.9" fill="#141220" stroke="#141220">C</text>
<text x="133.3" y="327.9" fill="#141220" stroke="#141220">C</text>
<text x="147.3" y="327.9" fill="#141220" stroke="#141220">T</text>
<text x="161.3" y="327.9" fill="#141220" stroke="#141220">C</text>
<text x="175.3" y="327.9" fill="#141220" stroke="#141220">C</text>
<text x="189.3" y="327.9" fill="#141220" stroke="#141220">T</text>
<text x="203.3" y="327.9" fill="#141220" stroke="#141220">C</text>
<text x="217.3" y="327.9" fill="#141220" stroke="#141220">A</text>
<text x="231.3" y="327.9" fill="#141220" stroke="#141220">T</text>
<text x="245.3" y="327.9" fill="#141220" stroke="#141220">C</text>
<text x="259.3" y="327.9" fill="#141220" stroke="#141220">T</text>
<text x="273.3" y="327.9" fill="#141220" stroke="#141220">T</text>
<text x="287.3" y="327.9" fill="#141220" stroke="#141220">G</text>
<text x="301.3" y="327.9" fill="#141220" stroke="#141220">G</text>
<text x="315.3" y="327.9" fill="#141220" stroke="#141220">A</text>
<text x="329.3" y="327.9" fill="#141220" stroke="#141220">G</text>
<text x="343.3" y="327.9" fill="#141220" stroke="#141220">T</text>
<text x="357.3" y="327.9" fill="#141220" stroke="#141220">A</text>
<text x="371.3" y="327.9" fill="#141220" stroke="#141220">C</text>
<text x="385.3" y="327.9" fill="#141220" stroke="#141220">G</text>
<text x="399.3" y="327.9" fill="#141220" stroke="#141220">C</text>
<text x="413.3" y="327.9" fill="#141220" stroke="#141220">C</text>
<text x="427.3" y="327.9" fill="#141220" stroke="#141220">A</text>
<text x="441.3" y="327.9" fill="#141220" stroke="#141220">A</text>
<text x="455.3" y="327.9" fill="#141220" stroke="#141220">A</text>
<text x="469.3" y="327.9" fill="#141220" stroke="#141220">T</text>
<text x="483.3" y="327.9" fill="#141220" stroke="#141220">A</text>
<text x="49.3" y="348.5" fill="#141220" stroke="#141220">C</text>
<text x="63.3" y="348.5" fill="#141220" stroke="#141220">C</text>
<text x="77.3" y="348.5" fill="#141220" stroke="#141220">G</text>
<text x="91.3" y="348.5" fill="#141220" stroke="#141220">C</text>
<text x="105.3" y="348.5" fill="#141220" stroke="#141220">T</text>
<text x="119.3" y="348.5" fill="#141220" stroke="#141220">C</text>
<text x="133.3" y="348.5" fill="#141220" stroke="#141220">C</text>
<text x="147.3" y="348.5" fill="#141220" stroke="#141220">T</text>
<text x="161.3" y="348.5" fill="#141220" stroke="#141220">C</text>
<text x="175.3" y="348.5" fill="#141220" stroke="#141220">C</text>
<text x="189.3" y="348.5" fill="#141220" stroke="#141220">T</text>
<text x="203.3" y="348.5" fill="#141220" stroke="#141220">C</text>
<text x="217.3" y="348.5" fill="#141220" stroke="#141220">A</text>
<text x="231.3" y="348.5" fill="#141220" stroke="#141220">T</text>
<text x="245.3" y="348.5" fill="#141220" stroke="#141220">C</text>
<text x="259.3" y="348.5" fill="#141220" stroke="#141220">T</text>
<text x="273.3" y="348.5" fill="#141220" stroke="#141220">T</text>
<text x="287.3" y="348.5" fill="#141220" stroke="#141220">G</text>
<text x="301.3" y="348.5" fill="#141220" stroke="#141220">G</text>
<text x="315.3" y="348.5" fill="#141220" stroke="#141220">A</text>
<text x="329.3" y="348.5" fill="#141220" stroke="#141220">G</text>
<text x="343.3" y="348.5" fill="#141220" stroke="#141220">T</text>
<text x="357.3" y="348.5" fill="#141220" stroke="#141220">A</text>
<text x="371.3" y="348.5" fill="#141220" stroke="#141220">C</text>
<text x="385.3" y="348.5" fill="#141220" stroke="#141220">G</text>
<text x="399.3" y="348.5" fill="#141220" stroke="#141220">C</text>
<text x="413.3" y="348.5" fill="#141220" stroke="#141220">C</text>
<text x="427.3" y="348.5" fill="#141220" stroke="#141220">A</text>
<text x="441.3" y="348.5" fill="#141220" stroke="#141220">A</text>
<text x="455.3" y="348.5" fill="#141220" stroke="#141220">A</text>
<text x="469.3" y="348.5" fill="#141220" stroke="#141220">T</text>
<text x="483.3" y="348.5" fill="#141220" stroke="#141220">A</text>
<text x="49.3" y="422.8" fill="#2828e8" stroke="#2828e8">C</text>
<text x="63.3" y="422.8" fill="#2828e8" stroke="#2828e8">C</text>
<text x="77.3" y="422.8" fill="#1a1a1a" stroke="#1a1a1a">G</text>
<text x="91.3" y="422.8" fill="#2828e8" stroke="#2828e8">C</text>
<text x="105.3" y="422.8" fill="#f02890" stroke="#f02890">T</text>
<text x="119.3" y="422.8" fill="#2828e8" stroke="#2828e8">C</text>
<text x="133.3" y="422.8" fill="#2828e8" stroke="#2828e8">C</text>
<text x="147.3" y="422.8" fill="#f02890" stroke="#f02890">T</text>
<text x="161.3" y="422.8" fill="#2828e8" stroke="#2828e8">C</text>
<text x="175.3" y="422.8" fill="#2828e8" stroke="#2828e8">C</text>
<text x="189.3" y="422.8" fill="#f02890" stroke="#f02890">T</text>
<text x="203.3" y="422.8" fill="#2828e8" stroke="#2828e8">C</text>
<text x="217.3" y="422.8" fill="#2a9a2a" stroke="#2a9a2a">A</text>
<text x="231.3" y="422.8" fill="#f02890" stroke="#f02890">T</text>
<text x="245.3" y="422.8" fill="#2828e8" stroke="#2828e8">C</text>
<text x="259.3" y="422.8" fill="#f02890" stroke="#f02890">T</text>
<text x="273.3" y="422.8" fill="#f02890" stroke="#f02890">T</text>
<text x="287.3" y="422.8" fill="#1a1a1a" stroke="#1a1a1a">G</text>
<text x="301.3" y="422.8" fill="#1a1a1a" stroke="#1a1a1a">G</text>
<text x="315.3" y="422.8" fill="#2a9a2a" stroke="#2a9a2a">A</text>
<text x="329.3" y="422.8" fill="#1a1a1a" stroke="#1a1a1a">G</text>
<text x="343.3" y="422.8" fill="#f02890" stroke="#f02890">T</text>
<text x="357.3" y="422.8" fill="#2a9a2a" stroke="#2a9a2a">A</text>
<text x="371.3" y="422.8" fill="#2828e8" stroke="#2828e8">C</text>
<text x="385.3" y="422.8" fill="#1a1a1a" stroke="#1a1a1a">G</text>
<text x="399.3" y="422.8" fill="#2828e8" stroke="#2828e8">C</text>
<text x="413.3" y="422.8" fill="#2828e8" stroke="#2828e8">C</text>
<text x="427.3" y="422.8" fill="#2a9a2a" stroke="#2a9a2a">A</text>
<text x="441.3" y="422.8" fill="#2a9a2a" stroke="#2a9a2a">A</text>
<text x="455.3" y="422.8" fill="#2a9a2a" stroke="#2a9a2a">A</text>
<text x="469.3" y="422.8" fill="#f02890" stroke="#f02890">T</text>
<text x="483.3" y="422.8" fill="#2a9a2a" stroke="#2a9a2a">A</text>
<text x="49.3" y="497.8" fill="#2828e8" stroke="#2828e8">C</text>
<text x="63.3" y="497.8" fill="#2828e8" stroke="#2828e8">C</text>
<text x="77.3" y="497.8" fill="#1a1a1a" stroke="#1a1a1a">G</text>
<text x="91.3" y="497.8" fill="#2828e8" stroke="#2828e8">C</text>
<text x="105.3" y="497.8" fill="#f02890" stroke="#f02890">T</text>
<text x="119.3" y="497.8" fill="#2828e8" stroke="#2828e8">C</text>
<text x="133.3" y="497.8" fill="#2828e8" stroke="#2828e8">C</text>
<text x="147.3" y="497.8" fill="#f02890" stroke="#f02890">T</text>
<text x="161.3" y="497.8" fill="#2828e8" stroke="#2828e8">C</text>
<text x="175.3" y="497.8" fill="#2828e8" stroke="#2828e8">C</text>
<text x="189.3" y="497.8" fill="#f02890" stroke="#f02890">T</text>
<text x="203.3" y="497.8" fill="#2828e8" stroke="#2828e8">C</text>
<text x="217.3" y="497.8" fill="#2a9a2a" stroke="#2a9a2a">A</text>
<text x="231.3" y="497.8" fill="#f02890" stroke="#f02890">T</text>
<text x="245.3" y="497.8" fill="#2828e8" stroke="#2828e8">C</text>
<text x="259.3" y="497.8" fill="#f02890" stroke="#f02890">T</text>
<text x="273.3" y="497.8" fill="#f02890" stroke="#f02890">T</text>
<text x="287.3" y="497.8" fill="#1a1a1a" stroke="#1a1a1a">G</text>
<text x="301.3" y="497.8" fill="#1a1a1a" stroke="#1a1a1a">G</text>
<text x="315.3" y="497.8" fill="#2a9a2a" stroke="#2a9a2a">A</text>
<text x="329.3" y="497.8" fill="#1a1a1a" stroke="#1a1a1a">G</text>
<text x="343.3" y="497.8" fill="#f02890" stroke="#f02890">T</text>
<text x="357.3" y="497.8" fill="#2a9a2a" stroke="#2a9a2a">A</text>
<text x="371.3" y="497.8" fill="#2828e8" stroke="#2828e8">C</text>
<text x="385.3" y="497.8" fill="#1a1a1a" stroke="#1a1a1a">G</text>
<text x="399.3" y="497.8" fill="#2828e8" stroke="#2828e8">C</text>
<text x="413.3" y="497.8" fill="#2828e8" stroke="#2828e8">C</text>
<text x="427.3" y="497.8" fill="#2a9a2a" stroke="#2a9a2a">A</text>
<text x="441.3" y="497.8" fill="#2a9a2a" stroke="#2a9a2a">A</text>
<text x="455.3" y="497.8" fill="#2a9a2a" stroke="#2a9a2a">A</text>
<text x="469.3" y="497.8" fill="#f02890" stroke="#f02890">T</text>
<text x="483.3" y="497.8" fill="#2a9a2a" stroke="#2a9a2a">A</text>
</g>
<g stroke="#2aa0f0" stroke-width="1" stroke-dasharray="1 1">
<line x1="203.5" y1="353" x2="203.5" y2="409"/>
<line x1="203.5" y1="428" x2="203.5" y2="484"/>
<line x1="483.5" y1="353" x2="483.5" y2="409"/>
<line x1="483.5" y1="428" x2="483.5" y2="484"/>
</g>
<g class="tr">
<line x1="40" y1="410.5" x2="492" y2="410.5" stroke="#202020" stroke-width="1" stroke-dasharray="3 4"/>
<path d="M40 409.5L69 409.5L70 408.9L71 407.1L72 405L73 402.9L74 401.1L75 399.8L76 399.1L77 399.1L78 399.8L79 401.1L80 402.9L81 405L82 407.1L83 408.9L84 409.5L279 409.5L280 409.2L281 407.4L282 405L283 402.4L284 400.2L285 398.5L286 397.5L287 397.2L288 397.8L289 399.1L290 401L291 403.4L292 406L293 408.3L294 408.8L295 406L296 402.6L297 399.1L298 396.2L299 394L300 392.8L301 392.7L302 393.7L303 395.7L304 398.5L305 401.9L306 405.4L307 408.3L308 409.5L321 409.5L322 408.9L323 406.9L324 404.3L325 401.8L326 399.6L327 397.9L328 397L329 397L330 397.7L331 399.2L332 401.3L333 403.8L334 406.4L335 408.6L336 409.5L377 409.5L378 409.1L379 407.8L380 406.1L381 404.3L382 402.9L383 401.8L384 401.2L385 401.1L386 401.6L387 402.6L388 404L389 405.7L390 407.4L391 408.9L392 409.5L492 409.5" stroke="#101010"/>
<path d="M40 409.5L209 409.5L210 409.3L211 407.6L212 405.2L213 402.7L214 400.4L215 398.6L216 397.5L217 397.2L218 397.7L219 398.9L220 400.8L221 403.2L222 405.7L223 408.1L224 409.5L307 409.5L308 408.4L309 405.6L310 402.4L311 399.3L312 396.6L313 394.8L314 393.9L315 394L316 395.1L317 397.1L318 399.9L319 403.1L320 406.3L321 408.8L322 409.5L349 409.5L350 408.7L351 407.4L352 405.8L353 404.3L354 403.2L355 402.4L356 402L357 402.2L358 402.8L359 403.8L360 405.2L361 406.7L362 408.2L363 409.3L364 409.5L418 409.5L419 409.2L420 407.1L421 404.3L422 401.5L423 398.9L424 397L425 395.8L426 395.5L427 396.2L428 397.6L429 399.9L430 402.6L431 405.5L432 408.1L433 409.4L434 407.7L435 405.2L436 402.5L437 400L438 398L439 396.7L440 396.3L441 396.7L442 398L443 400L444 402.5L445 405.2L446 407.7L447 409.4L448 408L449 405.2L450 402.2L451 399.3L452 396.9L453 395.3L454 394.6L455 394.9L456 396.1L457 398.2L458 400.9L459 404L460 407L461 409.2L462 409.5L475 409.5L476 409.2L477 408.1L478 406.7L479 405.3L480 404.1L481 403.2L482 402.7L483 402.6L484 403L485 403.9L486 405L487 406.4L488 407.8L489 409L490 409.5L492 409.5" stroke="#1e9a2a"/>
<path d="M40 409.5L41 409.5L42 408.8L43 407.2L44 405.2L45 403.3L46 401.7L47 400.6L48 400L49 400.1L50 400.8L51 402L52 403.7L53 405.6L54 407.5L55 409.1L56 409L57 407L58 404.5L59 402L60 399.8L61 398.2L62 397.3L63 397.3L64 398L65 399.4L66 401.5L67 403.9L68 406.5L69 408.6L70 409.5L83 409.5L84 408.8L85 407.5L86 405.9L87 404.3L88 403.1L89 402.2L90 401.8L91 401.9L92 402.5L93 403.5L94 404.9L95 406.5L96 408.1L97 409.2L98 409.5L112 409.5L113 407.9L114 405.4L115 402.6L116 400L117 397.9L118 396.5L119 396L120 396.4L121 397.6L122 399.5L123 402L124 404.8L125 407.5L126 409.2L127 408.2L128 406.6L129 404.9L130 403.4L131 402.2L132 401.4L133 401.2L134 401.5L135 402.4L136 403.6L137 405.2L138 407L139 408.5L140 409.5L153 409.5L154 408.8L155 406.3L156 403.1L157 399.9L158 397.1L159 395.1L160 394L161 393.9L162 394.8L163 396.6L164 399.3L165 402.4L166 405.6L167 408.4L168 409L169 407.9L170 406.6L171 405.3L172 404.2L173 403.4L174 403L175 403.1L176 403.5L177 404.4L178 405.5L179 406.8L180 408.2L181 409.2L182 409.5L195 409.5L196 408.9L197 406.5L198 403.6L199 400.6L200 398.1L201 396.2L202 395.2L203 395.1L204 395.9L205 397.6L206 400.1L207 403L208 405.9L209 408.5L210 409.5L237 409.5L238 409.2L239 407.9L240 406.3L241 404.8L242 403.4L243 402.4L244 401.9L245 401.8L246 402.3L247 403.2L248 404.5L249 406L250 407.6L251 409L252 409.5L363 409.5L364 409.4L365 407.7L366 405.2L367 402.5L368 400L369 398L370 396.7L371 396.3L372 396.7L373 398L374 400L375 402.5L376 405.2L377 407.7L378 409.4L379 409.5L391 409.5L392 408.7L393 407.1L394 405.4L395 403.7L396 402.4L397 401.5L398 401.1L399 401.3L400 402L401 403.1L402 404.7L403 406.4L404 408.1L405 409.3L406 409.4L407 407.2L408 403.8L409 400.2L410 396.8L411 394.2L412 392.6L413 392L414 392.6L415 394.2L416 396.8L417 400.2L418 403.8L419 407.2L420 409.4L421 409.5L484 409.5L485 408.8L486 407.7L487 406.6L488 405.5L489 404.7L490 404.2L491 404L492 404.2" stroke="#2020f0"/>
<path d="M40 409.5L97 409.5L98 408.5L99 405.1L100 400.7L101 396.3L102 392.5L103 389.8L104 388.3L105 388.1L106 389.4L107 391.9L108 395.5L109 399.8L110 404.2L111 408L112 409.5L140 409.5L141 407.5L142 403.7L143 399.5L144 395.5L145 392.3L146 390.1L147 389.2L148 389.6L149 391.3L150 394.1L151 397.8L152 402L153 406.1L154 409L155 409.5L181 409.5L182 408.3L183 405.3L184 401.7L185 398.2L186 395.3L187 393.3L188 392.3L189 392.4L190 393.6L191 395.9L192 398.9L193 402.4L194 405.9L195 408.7L196 409.5L223 409.5L224 408.9L225 405.1L226 399.9L227 394.5L228 389.7L229 386.1L230 383.9L231 383.4L232 384.6L233 387.4L234 391.5L235 396.6L236 402L237 406.9L238 409.5L251 409.5L252 408.7L253 406.8L254 404.5L255 402.3L256 400.4L257 399.1L258 398.5L259 398.5L260 399.3L261 400.7L262 402.7L263 404.9L264 407.2L265 409L266 409.4L267 408L268 406L269 404L270 402.1L271 400.7L272 399.8L273 399.5L274 399.9L275 400.9L276 402.4L277 404.4L278 406.4L279 408.3L280 409.5L335 409.5L336 408.9L337 406.5L338 403.5L339 400.5L340 398L341 396.1L342 395.1L343 395L344 395.8L345 397.5L346 400L347 402.9L348 405.9L349 408.5L350 409.5L461 409.5L462 408.5L463 405.8L464 402.8L465 399.8L466 397.3L467 395.5L468 394.7L469 394.8L470 395.8L471 397.8L472 400.4L473 403.4L474 406.4L475 408.8L476 409.5L492 409.5" stroke="#f0208c"/>
<line x1="40" y1="485.5" x2="492" y2="485.5" stroke="#202020" stroke-width="1" stroke-dasharray="3 4"/>
<path d="M40 484.5L70 484.5L71 484.2L72 481.1L73 476.6L74 471.8L75 467.3L76 463.7L77 461.2L78 460.1L79 460.4L80 462L81 465L82 469L83 473.7L84 478.5L85 482.6L86 484.5L280 484.5L281 482.5L282 476.5L283 469.1L284 461.7L285 455.2L286 450.2L287 447.1L288 446.2L289 447.6L290 451L291 456.4L292 463.2L293 470.7L294 477.9L295 482L296 480.2L297 476.7L298 473.4L299 470.5L300 468.4L301 467.2L302 466.9L303 467.8L304 469.6L305 472.2L306 475.4L307 478.8L308 482.1L309 484.3L310 484.5L322 484.5L323 483.3L324 480.1L325 476.4L326 472.7L327 469.5L328 467.1L329 465.7L330 465.3L331 466.1L332 468L333 470.7L334 474.2L335 477.9L336 481.5L337 484.1L338 484.5L378 484.5L379 483.8L380 481.4L381 478.3L382 475.1L383 472.3L384 470.1L385 468.7L386 468.2L387 468.7L388 470.1L389 472.3L390 475.1L391 478.3L392 481.4L393 483.8L394 484.5L492 484.5" stroke="#101010"/>
<path d="M40 484.5L210 484.5L211 482.6L212 479.1L213 475.2L214 471.3L215 468.1L216 465.7L217 464.4L218 464.3L219 465.4L220 467.5L221 470.6L222 474.4L223 478.4L224 482L225 484.4L226 484.5L308 484.5L309 482.8L310 476.6L311 468.7L312 460.6L313 453.4L314 447.8L315 444.2L316 443L317 444.2L318 447.8L319 453.4L320 460.6L321 468.7L322 476.6L323 482.8L324 484.5L351 484.5L352 483.3L353 478.9L354 473.2L355 467.4L356 462.2L357 458.2L358 455.7L359 454.8L360 455.7L361 458.2L362 462.2L363 467.4L364 473.2L365 478.9L366 483.3L367 484.5L421 484.5L422 483.1L423 479.7L424 475.7L425 471.7L426 468.3L427 465.8L428 464.4L429 464.3L430 465.2L431 467.1L432 469.8L433 473.1L434 476.8L435 478.9L436 478.7L437 476.1L438 472.3L439 468.9L440 466.1L441 464.3L442 463.4L443 463.7L444 464.9L445 467.1L446 470.2L447 473.8L448 477.6L449 479.1L450 477.7L451 473.5L452 468.8L453 464.6L454 461.3L455 459.2L456 458.2L457 458.7L458 460.8L459 464.3L460 468.9L461 474.1L462 479.3L463 483.4L464 484.5L476 484.5L477 483L478 477.6L479 470.7L480 463.6L481 457.4L482 452.5L483 449.4L484 448.3L485 449.4L486 452.5L487 457.4L488 463.6L489 470.7L490 477.6L491 483L492 484.5" stroke="#1e9a2a"/>
<path d="M40 473.7L41 475.6L42 477.7L43 479.6L44 478.7L45 476L46 472.1L47 467.6L48 463.8L49 461L50 459.4L51 459.1L52 460L53 461.9L54 464.6L55 468L56 469.6L57 469.8L58 469.3L59 467.8L60 464.7L61 461.2L62 458.7L63 457.2L64 456.8L65 458.2L66 461.3L67 465.9L68 471.5L69 477.4L70 482.5L71 484.5L84 484.5L85 483.8L86 480.3L87 475.6L88 470.8L89 466.5L90 463.1L91 460.9L92 460L93 460.6L94 462.5L95 465.8L96 469.9L97 474.7L98 479.4L99 483.2L100 484.5L112 484.5L113 482.9L114 477.2L115 469.8L116 462.5L117 456L118 451.1L119 448.1L120 447.4L121 448.5L122 451.1L123 455L124 460.1L125 465.9L126 470.4L127 472.4L128 472.5L129 469.5L130 465L131 461.2L132 458.2L133 456.3L134 455.6L135 456.3L136 458.8L137 462.7L138 467.9L139 473.7L140 479.3L141 483.6L142 484.5L154 484.5L155 482.5L156 476.6L157 469.3L158 462.1L159 455.9L160 451.2L161 448.6L162 448.1L163 449.3L164 452L165 455.9L166 461L167 466.8L168 471L169 473.2L170 473.4L171 470.6L172 466.5L173 463.1L174 460.6L175 458.9L176 458.4L177 459.2L178 461.6L179 465.3L180 470L181 475.2L182 480.3L183 483.9L184 484.5L196 484.5L197 484.4L198 480.8L199 474.8L200 468.1L201 461.7L202 456.4L203 452.5L204 450.6L205 450.6L206 452.5L207 456.4L208 461.7L209 468.1L210 474.8L211 480.8L212 484.4L213 484.5L238 484.5L239 482.1L240 477.1L241 471.2L242 465.4L243 460.5L244 456.8L245 454.7L246 454.4L247 455.8L248 458.8L249 463.3L250 468.8L251 474.8L252 480.3L253 484.1L254 484.5L364 484.5L365 483L366 479.1L367 474.4L368 469.8L369 465.8L370 462.7L371 461L372 460.5L373 461.5L374 463.8L375 467.3L376 471.6L377 476.3L378 480.8L379 484L380 484.5L392 484.5L393 483.2L394 479.5L395 474.9L396 470.3L397 466.4L398 463.4L399 461.8L400 461.4L401 462.2L402 463.9L403 466.4L404 469.6L405 473.3L406 476.4L407 477L408 475.9L409 472.6L410 468.5L411 465L412 462.1L413 460.1L414 459.2L415 459.4L416 461.1L417 464.2L418 468.5L419 473.4L420 478.5L421 482.8L422 484.5L483 484.5L484 484.2L485 483.3L486 482L487 480.8L488 479.6L489 478.7L490 478.2L491 478L492 478.2" stroke="#2020f0"/>
<path d="M40 484.5L98 484.5L99 484.2L100 479.8L101 472.9L102 465.4L103 458.3L104 452.5L105 448.4L106 446.4L107 446.6L108 449L109 453.5L110 459.6L111 466.9L112 474.4L113 481L114 484.5L140 484.5L141 482.6L142 476.9L143 469.9L144 462.8L145 456.6L146 451.8L147 448.9L148 448L149 449.3L150 452.6L151 457.7L152 464.2L153 471.3L154 478.2L155 483.4L156 484.5L182 484.5L183 483.1L184 477.9L185 471.3L186 464.6L187 458.6L188 453.9L189 450.9L190 449.9L191 450.9L192 453.9L193 458.6L194 464.6L195 471.3L196 477.9L197 483.1L198 484.5L223 484.5L224 484.4L225 480.4L226 473.6L227 466.1L228 459L229 453L230 448.7L231 446.5L232 446.5L233 448.7L234 453L235 459L236 466.1L237 473.6L238 480.4L239 484.4L240 484.5L252 484.5L253 484.1L254 480.4L255 475L256 469.2L257 463.8L258 459.4L259 456.5L260 455.1L261 455.4L262 457.5L263 461L264 465.9L265 471.5L266 477.3L267 479L268 475.2L269 468.2L270 461.6L271 455.9L272 451.8L273 449.6L274 449.4L275 451.2L276 455L277 460.4L278 466.9L279 473.8L280 480.2L281 484.3L282 484.5L336 484.5L337 484.3L338 481.9L339 478.4L340 474.7L341 471.2L342 468.4L343 466.5L344 465.7L345 465.9L346 467.2L347 469.5L348 472.6L349 476.2L350 479.9L351 483L352 484.5L462 484.5L463 482.6L464 477.8L465 472L466 466.3L467 461.3L468 457.6L469 455.4L470 454.8L471 456L472 458.9L473 463.2L474 468.5L475 474.3L476 479.9L477 483.9L478 484.5L492 484.5" stroke="#f0208c"/>
</g>
</g>
<rect x="253" y="316" width="13" height="187" fill="#fff" style="mix-blend-mode:difference"/>
</svg></body></html>
